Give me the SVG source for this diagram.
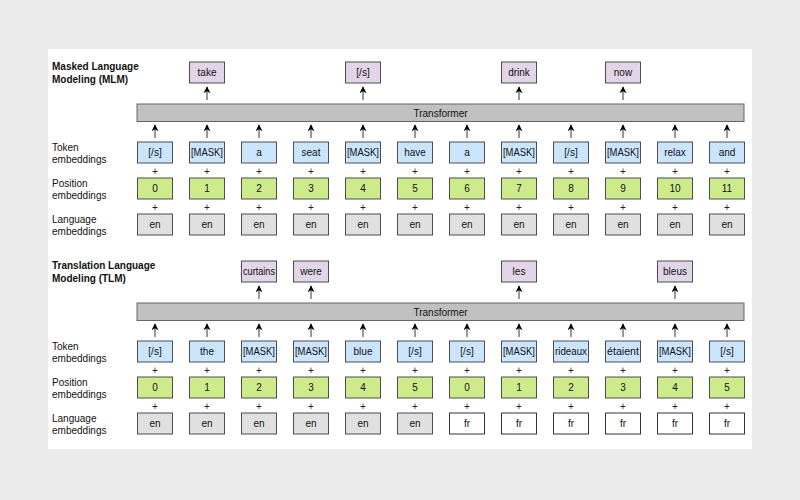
<svg xmlns="http://www.w3.org/2000/svg" width="800" height="500" viewBox="0 0 800 500">
<style>
text{font-family:"Liberation Sans",Arial,sans-serif;fill:#111}
.lbl{font-size:10px}
.ttl{font-size:10px;font-weight:bold}
.bt{font-size:10px;text-anchor:middle}
.pl{font-size:10px;text-anchor:middle;fill:#222}
.bx{stroke:#4d4d4d;stroke-width:1}
.out{fill:#e1d5e7}
.tok{fill:#cce5ff}
.pos{fill:#cdeb8b}
.en{fill:#e0e0e0}
.fr{fill:#ffffff;stroke:#333}
.tr{fill:#c0c0c0;stroke:#666;stroke-width:1}
.ar{stroke:#333;stroke-width:1;fill:none;marker-end:url(#ah)}
</style>
<defs>
<marker id="ah" viewBox="0 0 10 10" refX="9" refY="5" markerWidth="7" markerHeight="7" markerUnits="userSpaceOnUse" orient="auto">
<path d="M0,0 L10,5 L0,10 L3,5 Z" fill="#000"/>
</marker>
</defs>
<rect x="0" y="0" width="800" height="500" fill="#ebebeb"/>
<rect x="48" y="49" width="704" height="400" fill="#ffffff"/>

<!-- MLM -->
<g id="mlm-title"><text class="ttl" x="52" y="70">Masked Language</text><text class="ttl" x="52" y="82.5">Modeling (MLM)</text></g>
<g id="mlm-row-labels">
<text class="lbl" x="52" y="151">Token</text><text class="lbl" x="52" y="163">embeddings</text>
<text class="lbl" x="52" y="187">Position</text><text class="lbl" x="52" y="199">embeddings</text>
<text class="lbl" x="52" y="223">Language</text><text class="lbl" x="52" y="235">embeddings</text>
</g>
<g id="mlm-transformer"><rect class="tr" x="137" y="104" width="607" height="17.5"/><text class="bt" x="440.5" y="116.5">Transformer</text></g>

<g id="mlm-out-take"><rect class="bx out" x="189.5" y="62" width="35" height="21"/><text class="bt" x="207" y="76">take</text></g>
<g id="mlm-out-s"><rect class="bx out" x="345.5" y="62" width="35" height="21"/><text class="bt" x="363" y="76">[/s]</text></g>
<g id="mlm-out-drink"><rect class="bx out" x="501.5" y="62" width="35" height="21"/><text class="bt" x="519" y="76">drink</text></g>
<g id="mlm-out-now"><rect class="bx out" x="605.5" y="62" width="35" height="21"/><text class="bt" x="623" y="76">now</text></g>

<g id="mlm-tokens">
<g id="mlm-tok-0"><rect class="bx tok" x="137.5" y="142" width="35" height="21"/><text class="bt" x="155" y="156">[/s]</text></g>
<g id="mlm-tok-1"><rect class="bx tok" x="189.5" y="142" width="35" height="21"/><text class="bt" x="207" y="156" textLength="32" lengthAdjust="spacingAndGlyphs">[MASK]</text></g>
<g id="mlm-tok-2"><rect class="bx tok" x="241.5" y="142" width="35" height="21"/><text class="bt" x="259" y="156">a</text></g>
<g id="mlm-tok-3"><rect class="bx tok" x="293.5" y="142" width="35" height="21"/><text class="bt" x="311" y="156">seat</text></g>
<g id="mlm-tok-4"><rect class="bx tok" x="345.5" y="142" width="35" height="21"/><text class="bt" x="363" y="156" textLength="32" lengthAdjust="spacingAndGlyphs">[MASK]</text></g>
<g id="mlm-tok-5"><rect class="bx tok" x="397.5" y="142" width="35" height="21"/><text class="bt" x="415" y="156">have</text></g>
<g id="mlm-tok-6"><rect class="bx tok" x="449.5" y="142" width="35" height="21"/><text class="bt" x="467" y="156">a</text></g>
<g id="mlm-tok-7"><rect class="bx tok" x="501.5" y="142" width="35" height="21"/><text class="bt" x="519" y="156" textLength="32" lengthAdjust="spacingAndGlyphs">[MASK]</text></g>
<g id="mlm-tok-8"><rect class="bx tok" x="553.5" y="142" width="35" height="21"/><text class="bt" x="571" y="156">[/s]</text></g>
<g id="mlm-tok-9"><rect class="bx tok" x="605.5" y="142" width="35" height="21"/><text class="bt" x="623" y="156" textLength="32" lengthAdjust="spacingAndGlyphs">[MASK]</text></g>
<g id="mlm-tok-10"><rect class="bx tok" x="657.5" y="142" width="35" height="21"/><text class="bt" x="675" y="156">relax</text></g>
<g id="mlm-tok-11"><rect class="bx tok" x="709.5" y="142" width="35" height="21"/><text class="bt" x="727" y="156">and</text></g>
</g>

<g id="mlm-positions">
<g id="mlm-pos-0"><rect class="bx pos" x="137.5" y="178" width="35" height="21"/><text class="bt" x="155" y="192">0</text></g>
<g id="mlm-pos-1"><rect class="bx pos" x="189.5" y="178" width="35" height="21"/><text class="bt" x="207" y="192">1</text></g>
<g id="mlm-pos-2"><rect class="bx pos" x="241.5" y="178" width="35" height="21"/><text class="bt" x="259" y="192">2</text></g>
<g id="mlm-pos-3"><rect class="bx pos" x="293.5" y="178" width="35" height="21"/><text class="bt" x="311" y="192">3</text></g>
<g id="mlm-pos-4"><rect class="bx pos" x="345.5" y="178" width="35" height="21"/><text class="bt" x="363" y="192">4</text></g>
<g id="mlm-pos-5"><rect class="bx pos" x="397.5" y="178" width="35" height="21"/><text class="bt" x="415" y="192">5</text></g>
<g id="mlm-pos-6"><rect class="bx pos" x="449.5" y="178" width="35" height="21"/><text class="bt" x="467" y="192">6</text></g>
<g id="mlm-pos-7"><rect class="bx pos" x="501.5" y="178" width="35" height="21"/><text class="bt" x="519" y="192">7</text></g>
<g id="mlm-pos-8"><rect class="bx pos" x="553.5" y="178" width="35" height="21"/><text class="bt" x="571" y="192">8</text></g>
<g id="mlm-pos-9"><rect class="bx pos" x="605.5" y="178" width="35" height="21"/><text class="bt" x="623" y="192">9</text></g>
<g id="mlm-pos-10"><rect class="bx pos" x="657.5" y="178" width="35" height="21"/><text class="bt" x="675" y="192">10</text></g>
<g id="mlm-pos-11"><rect class="bx pos" x="709.5" y="178" width="35" height="21"/><text class="bt" x="727" y="192">11</text></g>
</g>

<g id="mlm-languages">
<g id="mlm-lang-0"><rect class="bx en" x="137.5" y="214" width="35" height="21"/><text class="bt" x="155" y="228">en</text></g>
<g id="mlm-lang-1"><rect class="bx en" x="189.5" y="214" width="35" height="21"/><text class="bt" x="207" y="228">en</text></g>
<g id="mlm-lang-2"><rect class="bx en" x="241.5" y="214" width="35" height="21"/><text class="bt" x="259" y="228">en</text></g>
<g id="mlm-lang-3"><rect class="bx en" x="293.5" y="214" width="35" height="21"/><text class="bt" x="311" y="228">en</text></g>
<g id="mlm-lang-4"><rect class="bx en" x="345.5" y="214" width="35" height="21"/><text class="bt" x="363" y="228">en</text></g>
<g id="mlm-lang-5"><rect class="bx en" x="397.5" y="214" width="35" height="21"/><text class="bt" x="415" y="228">en</text></g>
<g id="mlm-lang-6"><rect class="bx en" x="449.5" y="214" width="35" height="21"/><text class="bt" x="467" y="228">en</text></g>
<g id="mlm-lang-7"><rect class="bx en" x="501.5" y="214" width="35" height="21"/><text class="bt" x="519" y="228">en</text></g>
<g id="mlm-lang-8"><rect class="bx en" x="553.5" y="214" width="35" height="21"/><text class="bt" x="571" y="228">en</text></g>
<g id="mlm-lang-9"><rect class="bx en" x="605.5" y="214" width="35" height="21"/><text class="bt" x="623" y="228">en</text></g>
<g id="mlm-lang-10"><rect class="bx en" x="657.5" y="214" width="35" height="21"/><text class="bt" x="675" y="228">en</text></g>
<g id="mlm-lang-11"><rect class="bx en" x="709.5" y="214" width="35" height="21"/><text class="bt" x="727" y="228">en</text></g>
</g>

<g id="mlm-plus">
<text class="pl" x="155" y="174.5">+</text><text class="pl" x="207" y="174.5">+</text><text class="pl" x="259" y="174.5">+</text><text class="pl" x="311" y="174.5">+</text><text class="pl" x="363" y="174.5">+</text><text class="pl" x="415" y="174.5">+</text><text class="pl" x="467" y="174.5">+</text><text class="pl" x="519" y="174.5">+</text><text class="pl" x="571" y="174.5">+</text><text class="pl" x="623" y="174.5">+</text><text class="pl" x="675" y="174.5">+</text><text class="pl" x="727" y="174.5">+</text>
<text class="pl" x="155" y="210.5">+</text><text class="pl" x="207" y="210.5">+</text><text class="pl" x="259" y="210.5">+</text><text class="pl" x="311" y="210.5">+</text><text class="pl" x="363" y="210.5">+</text><text class="pl" x="415" y="210.5">+</text><text class="pl" x="467" y="210.5">+</text><text class="pl" x="519" y="210.5">+</text><text class="pl" x="571" y="210.5">+</text><text class="pl" x="623" y="210.5">+</text><text class="pl" x="675" y="210.5">+</text><text class="pl" x="727" y="210.5">+</text>
</g>

<!-- TLM -->
<g id="tlm-title"><text class="ttl" x="52" y="269">Translation Language</text><text class="ttl" x="52" y="281.5">Modeling (TLM)</text></g>
<g id="tlm-row-labels">
<text class="lbl" x="52" y="350">Token</text><text class="lbl" x="52" y="362">embeddings</text>
<text class="lbl" x="52" y="386">Position</text><text class="lbl" x="52" y="398">embeddings</text>
<text class="lbl" x="52" y="422">Language</text><text class="lbl" x="52" y="434">embeddings</text>
</g>
<g id="tlm-transformer"><rect class="tr" x="137" y="303" width="607" height="17.5"/><text class="bt" x="440.5" y="315.5">Transformer</text></g>

<g id="tlm-out-curtains"><rect class="bx out" x="241.5" y="261" width="35" height="21"/><text class="bt" x="259" y="275" textLength="32" lengthAdjust="spacingAndGlyphs">curtains</text></g>
<g id="tlm-out-were"><rect class="bx out" x="293.5" y="261" width="35" height="21"/><text class="bt" x="311" y="275">were</text></g>
<g id="tlm-out-les"><rect class="bx out" x="501.5" y="261" width="35" height="21"/><text class="bt" x="519" y="275">les</text></g>
<g id="tlm-out-bleus"><rect class="bx out" x="657.5" y="261" width="35" height="21"/><text class="bt" x="675" y="275">bleus</text></g>

<g id="tlm-tokens">
<g id="tlm-tok-0"><rect class="bx tok" x="137.5" y="341" width="35" height="21"/><text class="bt" x="155" y="355">[/s]</text></g>
<g id="tlm-tok-1"><rect class="bx tok" x="189.5" y="341" width="35" height="21"/><text class="bt" x="207" y="355">the</text></g>
<g id="tlm-tok-2"><rect class="bx tok" x="241.5" y="341" width="35" height="21"/><text class="bt" x="259" y="355" textLength="32" lengthAdjust="spacingAndGlyphs">[MASK]</text></g>
<g id="tlm-tok-3"><rect class="bx tok" x="293.5" y="341" width="35" height="21"/><text class="bt" x="311" y="355" textLength="32" lengthAdjust="spacingAndGlyphs">[MASK]</text></g>
<g id="tlm-tok-4"><rect class="bx tok" x="345.5" y="341" width="35" height="21"/><text class="bt" x="363" y="355">blue</text></g>
<g id="tlm-tok-5"><rect class="bx tok" x="397.5" y="341" width="35" height="21"/><text class="bt" x="415" y="355">[/s]</text></g>
<g id="tlm-tok-6"><rect class="bx tok" x="449.5" y="341" width="35" height="21"/><text class="bt" x="467" y="355">[/s]</text></g>
<g id="tlm-tok-7"><rect class="bx tok" x="501.5" y="341" width="35" height="21"/><text class="bt" x="519" y="355" textLength="32" lengthAdjust="spacingAndGlyphs">[MASK]</text></g>
<g id="tlm-tok-8"><rect class="bx tok" x="553.5" y="341" width="35" height="21"/><text class="bt" x="571" y="355" textLength="32" lengthAdjust="spacingAndGlyphs">rideaux</text></g>
<g id="tlm-tok-9"><rect class="bx tok" x="605.5" y="341" width="35" height="21"/><text class="bt" x="623" y="355" textLength="32" lengthAdjust="spacingAndGlyphs">étaient</text></g>
<g id="tlm-tok-10"><rect class="bx tok" x="657.5" y="341" width="35" height="21"/><text class="bt" x="675" y="355" textLength="32" lengthAdjust="spacingAndGlyphs">[MASK]</text></g>
<g id="tlm-tok-11"><rect class="bx tok" x="709.5" y="341" width="35" height="21"/><text class="bt" x="727" y="355">[/s]</text></g>
</g>

<g id="tlm-positions">
<g id="tlm-pos-0"><rect class="bx pos" x="137.5" y="377" width="35" height="21"/><text class="bt" x="155" y="391">0</text></g>
<g id="tlm-pos-1"><rect class="bx pos" x="189.5" y="377" width="35" height="21"/><text class="bt" x="207" y="391">1</text></g>
<g id="tlm-pos-2"><rect class="bx pos" x="241.5" y="377" width="35" height="21"/><text class="bt" x="259" y="391">2</text></g>
<g id="tlm-pos-3"><rect class="bx pos" x="293.5" y="377" width="35" height="21"/><text class="bt" x="311" y="391">3</text></g>
<g id="tlm-pos-4"><rect class="bx pos" x="345.5" y="377" width="35" height="21"/><text class="bt" x="363" y="391">4</text></g>
<g id="tlm-pos-5"><rect class="bx pos" x="397.5" y="377" width="35" height="21"/><text class="bt" x="415" y="391">5</text></g>
<g id="tlm-pos-6"><rect class="bx pos" x="449.5" y="377" width="35" height="21"/><text class="bt" x="467" y="391">0</text></g>
<g id="tlm-pos-7"><rect class="bx pos" x="501.5" y="377" width="35" height="21"/><text class="bt" x="519" y="391">1</text></g>
<g id="tlm-pos-8"><rect class="bx pos" x="553.5" y="377" width="35" height="21"/><text class="bt" x="571" y="391">2</text></g>
<g id="tlm-pos-9"><rect class="bx pos" x="605.5" y="377" width="35" height="21"/><text class="bt" x="623" y="391">3</text></g>
<g id="tlm-pos-10"><rect class="bx pos" x="657.5" y="377" width="35" height="21"/><text class="bt" x="675" y="391">4</text></g>
<g id="tlm-pos-11"><rect class="bx pos" x="709.5" y="377" width="35" height="21"/><text class="bt" x="727" y="391">5</text></g>
</g>

<g id="tlm-languages">
<g id="tlm-lang-0"><rect class="bx en" x="137.5" y="413" width="35" height="21"/><text class="bt" x="155" y="427">en</text></g>
<g id="tlm-lang-1"><rect class="bx en" x="189.5" y="413" width="35" height="21"/><text class="bt" x="207" y="427">en</text></g>
<g id="tlm-lang-2"><rect class="bx en" x="241.5" y="413" width="35" height="21"/><text class="bt" x="259" y="427">en</text></g>
<g id="tlm-lang-3"><rect class="bx en" x="293.5" y="413" width="35" height="21"/><text class="bt" x="311" y="427">en</text></g>
<g id="tlm-lang-4"><rect class="bx en" x="345.5" y="413" width="35" height="21"/><text class="bt" x="363" y="427">en</text></g>
<g id="tlm-lang-5"><rect class="bx en" x="397.5" y="413" width="35" height="21"/><text class="bt" x="415" y="427">en</text></g>
<g id="tlm-lang-6"><rect class="bx fr" x="449.5" y="413" width="35" height="21"/><text class="bt" x="467" y="427">fr</text></g>
<g id="tlm-lang-7"><rect class="bx fr" x="501.5" y="413" width="35" height="21"/><text class="bt" x="519" y="427">fr</text></g>
<g id="tlm-lang-8"><rect class="bx fr" x="553.5" y="413" width="35" height="21"/><text class="bt" x="571" y="427">fr</text></g>
<g id="tlm-lang-9"><rect class="bx fr" x="605.5" y="413" width="35" height="21"/><text class="bt" x="623" y="427">fr</text></g>
<g id="tlm-lang-10"><rect class="bx fr" x="657.5" y="413" width="35" height="21"/><text class="bt" x="675" y="427">fr</text></g>
<g id="tlm-lang-11"><rect class="bx fr" x="709.5" y="413" width="35" height="21"/><text class="bt" x="727" y="427">fr</text></g>
</g>

<g id="tlm-plus">
<text class="pl" x="155" y="373.5">+</text><text class="pl" x="207" y="373.5">+</text><text class="pl" x="259" y="373.5">+</text><text class="pl" x="311" y="373.5">+</text><text class="pl" x="363" y="373.5">+</text><text class="pl" x="415" y="373.5">+</text><text class="pl" x="467" y="373.5">+</text><text class="pl" x="519" y="373.5">+</text><text class="pl" x="571" y="373.5">+</text><text class="pl" x="623" y="373.5">+</text><text class="pl" x="675" y="373.5">+</text><text class="pl" x="727" y="373.5">+</text>
<text class="pl" x="155" y="409.5">+</text><text class="pl" x="207" y="409.5">+</text><text class="pl" x="259" y="409.5">+</text><text class="pl" x="311" y="409.5">+</text><text class="pl" x="363" y="409.5">+</text><text class="pl" x="415" y="409.5">+</text><text class="pl" x="467" y="409.5">+</text><text class="pl" x="519" y="409.5">+</text><text class="pl" x="571" y="409.5">+</text><text class="pl" x="623" y="409.5">+</text><text class="pl" x="675" y="409.5">+</text><text class="pl" x="727" y="409.5">+</text>
</g>

<g id="connectors">
<path class="ar" d="M207,100V87"/><path class="ar" d="M363,100V87"/><path class="ar" d="M519,100V87"/><path class="ar" d="M623,100V87"/>
<path class="ar" d="M155,138V125"/><path class="ar" d="M207,138V125"/><path class="ar" d="M259,138V125"/><path class="ar" d="M311,138V125"/><path class="ar" d="M363,138V125"/><path class="ar" d="M415,138V125"/><path class="ar" d="M467,138V125"/><path class="ar" d="M519,138V125"/><path class="ar" d="M571,138V125"/><path class="ar" d="M623,138V125"/><path class="ar" d="M675,138V125"/><path class="ar" d="M727,138V125"/>
<path class="ar" d="M259,299V286"/><path class="ar" d="M311,299V286"/><path class="ar" d="M519,299V286"/><path class="ar" d="M675,299V286"/>
<path class="ar" d="M155,337V324"/><path class="ar" d="M207,337V324"/><path class="ar" d="M259,337V324"/><path class="ar" d="M311,337V324"/><path class="ar" d="M363,337V324"/><path class="ar" d="M415,337V324"/><path class="ar" d="M467,337V324"/><path class="ar" d="M519,337V324"/><path class="ar" d="M571,337V324"/><path class="ar" d="M623,337V324"/><path class="ar" d="M675,337V324"/><path class="ar" d="M727,337V324"/>
</g>
</svg>
